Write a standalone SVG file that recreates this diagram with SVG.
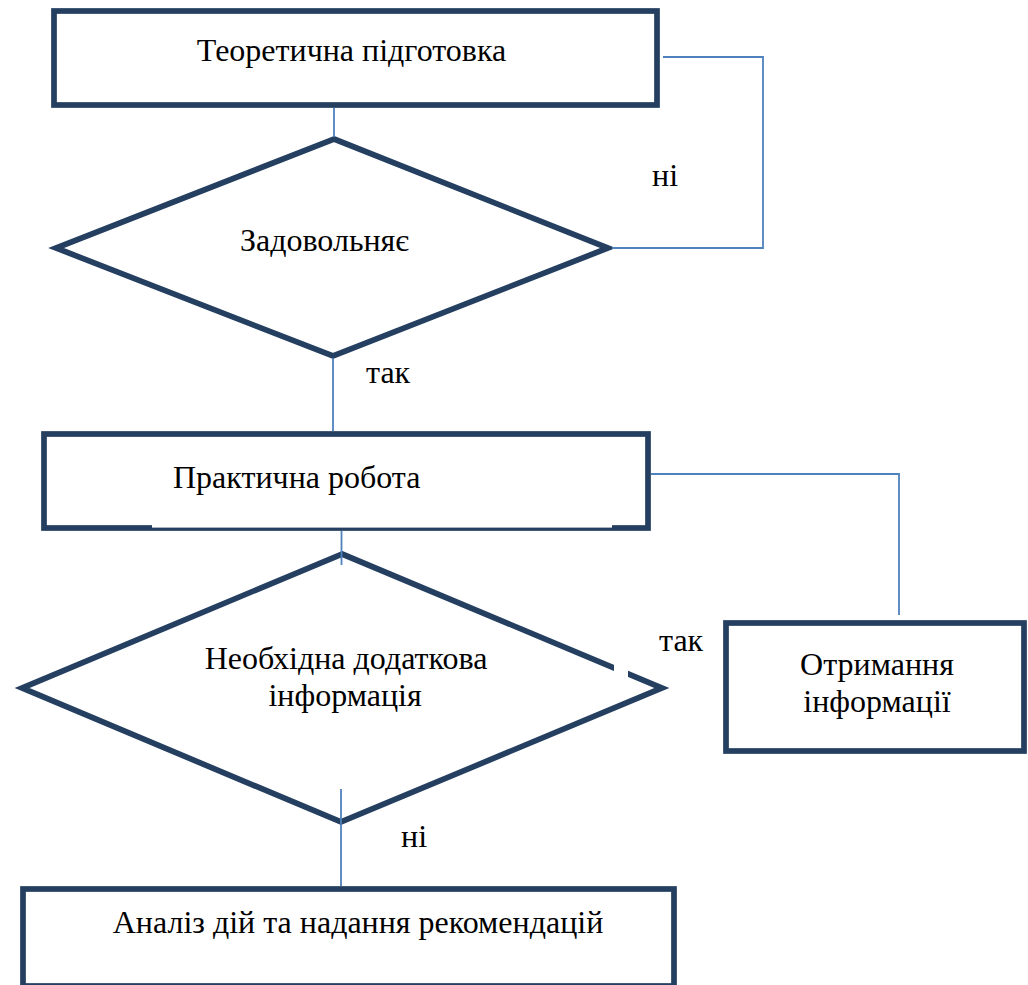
<svg xmlns="http://www.w3.org/2000/svg" width="1028" height="985" viewBox="0 0 1028 985">
  <style>
    .node { fill: #ffffff; stroke: #243f60; stroke-width: 5.7; stroke-linejoin: miter; }
    .conn { fill: none; stroke: #4f81bd; stroke-width: 1.8; }
    text { font-family: 'Liberation Serif', 'Tinos', 'DejaVu Serif', serif; font-size: 32px; fill: #000000; }
    .mid { text-anchor: middle; }
    .mask { fill: #ffffff; stroke: none; }
  </style>
  <rect width="1028" height="985" fill="#ffffff"/>

  <g id="node-teoretychna">
    <rect class="node" x="54" y="11" width="603" height="94"/>
    <text class="mid" x="351.5" y="61" font-family="Liberation Serif, serif">Теоретична підготовка</text>
  </g>

  <g id="node-zadovolniaie">
    <polygon class="node" points="334,139 608,248 333,356 56,248"/>
    <text class="mid" x="324.5" y="251" font-family="Liberation Serif, serif">Задовольняє</text>
  </g>

  <g id="node-praktychna">
    <rect class="node" x="44" y="434" width="604" height="94"/>
    <rect class="mask" x="152" y="524" width="460" height="3.6"/>
    <text x="173" y="488" font-family="Liberation Serif, serif">Практична робота</text>
  </g>

  <g id="node-neobkhidna">
    <polygon class="node" points="342,554 662,688 341,822 22,688"/>
    <rect class="mask" x="614" y="652" width="14" height="28"/>
    <text class="mid" x="346" y="669" font-family="Liberation Serif, serif">Необхідна додаткова</text>
    <text class="mid" x="345" y="706" font-family="Liberation Serif, serif">інформація</text>
  </g>

  <g id="node-otrymannia">
    <rect class="node" x="726" y="623" width="298" height="128"/>
    <text class="mid" x="877" y="675" font-family="Liberation Serif, serif">Отримання</text>
    <text class="mid" x="877" y="712" font-family="Liberation Serif, serif">інформації</text>
  </g>

  <g id="node-analiz">
    <rect class="node" x="23" y="889" width="651" height="97"/>
    <text class="mid" x="358" y="933" font-family="Liberation Serif, serif">Аналіз дій та надання рекомендацій</text>
  </g>

  <g id="connectors">
    <path class="conn" d="M334,108 V137"/>
    <path class="conn" d="M663,57 H763 V248 H612"/>
    <path class="conn" d="M333,358 V431"/>
    <path class="conn" d="M651,474 H899 V615"/>
    <path class="conn" d="M341.5,531 V565"/>
    <path class="conn" d="M341,789 V886"/>
    <text x="652" y="186" font-family="Liberation Serif, serif">ні</text>
    <text x="366" y="383" font-family="Liberation Serif, serif">так</text>
    <text x="659" y="651" font-family="Liberation Serif, serif">так</text>
    <text x="401" y="847" font-family="Liberation Serif, serif">ні</text>
  </g>
</svg>
